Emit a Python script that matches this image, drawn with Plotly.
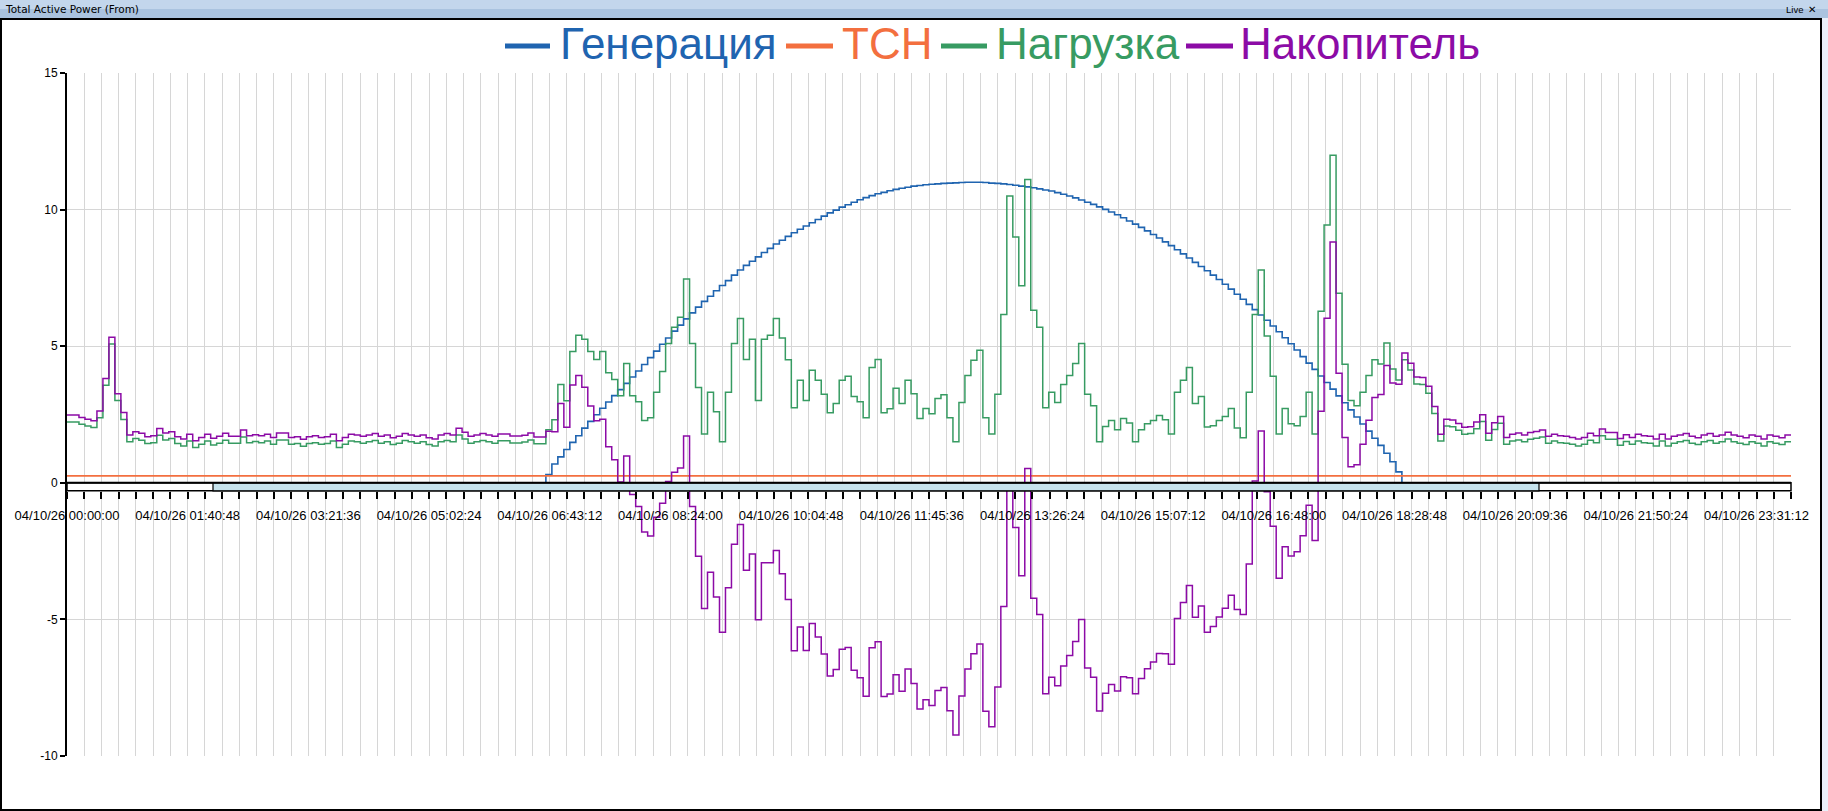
import plotly.graph_objects as go
import pandas as pd

# ---------------- data ----------------
start = "2026-04-10 00:00:00"
end = "2026-04-11 00:00:00"
times = pd.date_range(start, periods=289, freq="5min")

series_names = ["Генерация", "ТСН", "Нагрузка", "Накопитель"]

tick_labels = ["04/10/26 00:00:00", "04/10/26 01:40:48", "04/10/26 03:21:36", "04/10/26 05:02:24",
               "04/10/26 06:43:12", "04/10/26 08:24:00", "04/10/26 10:04:48", "04/10/26 11:45:36",
               "04/10/26 13:26:24", "04/10/26 15:07:12", "04/10/26 16:48:00", "04/10/26 18:28:48",
               "04/10/26 20:09:36", "04/10/26 21:50:24", "04/10/26 23:31:12"]
y_ticks = [-10, -5, 0, 5, 10, 15]
y_tick_labels = ["-10", "-5", "0", "5", "10", "15"]

generation = [0.0] * 80 + [
    0.30, 0.69, 0.95, 1.22, 1.48, 1.72, 2.00, 2.25, 2.49, 2.73, 2.96, 3.19,
    3.41, 3.64, 3.87, 4.09, 4.33, 4.58, 4.82, 5.07, 5.30, 5.55, 5.77, 6.00,
    6.22, 6.43, 6.64, 6.83, 7.03, 7.22, 7.40, 7.60, 7.79, 7.96, 8.11, 8.27,
    8.43, 8.58, 8.74, 8.88, 9.02, 9.15, 9.28, 9.40, 9.52, 9.64, 9.76, 9.88,
    9.98, 10.09, 10.18, 10.27, 10.36, 10.44, 10.51, 10.58, 10.63, 10.69, 10.74, 10.78,
    10.82, 10.86, 10.88, 10.91, 10.93, 10.94, 10.96, 10.97, 10.98, 10.99, 11.00, 11.00,
    11.00, 10.99, 10.97, 10.96, 10.94, 10.92, 10.89, 10.86, 10.83, 10.80, 10.76, 10.72,
    10.68, 10.62, 10.56, 10.50, 10.43, 10.35, 10.27, 10.19, 10.10, 10.01, 9.91, 9.81,
    9.70, 9.58, 9.47, 9.35, 9.22, 9.09, 8.96, 8.82, 8.68, 8.53, 8.38, 8.23,
    8.07, 7.92, 7.76, 7.60, 7.44, 7.27, 7.09, 6.90, 6.72, 6.53, 6.34, 6.14,
    5.95, 5.74, 5.53, 5.31, 5.09, 4.86, 4.62, 4.38, 4.15, 3.91, 3.67, 3.43,
    3.18, 2.93, 2.67, 2.41, 2.15, 1.89, 1.63, 1.37, 1.08, 0.77, 0.40,
] + [0.0] * 66

tsn = [0.25] * 289

load = [
    2.23, 2.23, 2.14, 2.08, 2.02, 2.38, 3.57, 5.08, 3.01, 2.32, 1.50, 1.62,
    1.56, 1.44, 1.47, 1.74, 1.57, 1.62, 1.44, 1.35, 1.53, 1.29, 1.41, 1.53,
    1.38, 1.45, 1.56, 1.45, 1.45, 1.68, 1.47, 1.51, 1.47, 1.53, 1.41, 1.57,
    1.57, 1.41, 1.44, 1.34, 1.44, 1.47, 1.41, 1.44, 1.53, 1.29, 1.41, 1.53,
    1.50, 1.45, 1.50, 1.55, 1.45, 1.50, 1.40, 1.45, 1.55, 1.50, 1.45, 1.50,
    1.40, 1.35, 1.50, 1.55, 1.50, 1.75, 1.60, 1.45, 1.50, 1.55, 1.50, 1.45,
    1.54, 1.54, 1.46, 1.46, 1.49, 1.57, 1.43, 1.43, 1.94, 2.31, 3.60, 3.00,
    4.81, 5.40, 5.25, 4.81, 4.51, 4.81, 4.03, 3.78, 3.19, 4.37, 3.19, 2.97,
    2.28, 2.38, 3.31, 4.07, 5.10, 5.69, 6.06, 7.46, 5.10, 3.49, 1.79, 3.31,
    2.60, 1.50, 3.31, 5.10, 6.01, 4.51, 5.25, 3.01, 5.25, 5.40, 6.01, 5.30,
    4.50, 2.75, 3.75, 3.01, 4.12, 3.75, 3.24, 2.56, 2.90, 3.75, 3.90, 3.16,
    2.97, 2.38, 4.22, 4.51, 2.56, 2.71, 3.46, 2.90, 3.75, 3.26, 2.35, 2.72,
    2.53, 3.09, 3.22, 2.38, 1.50, 2.94, 3.93, 4.49, 4.85, 2.38, 1.79, 3.24,
    6.16, 10.50, 9.00, 7.21, 11.10, 6.32, 5.69, 2.75, 3.31, 2.94, 3.60, 3.93,
    4.37, 5.10, 3.24, 2.82, 1.50, 2.06, 2.28, 1.94, 2.35, 2.19, 1.50, 1.94,
    2.16, 2.28, 2.46, 2.31, 1.79, 3.31, 3.75, 4.22, 2.90, 3.16, 2.04, 2.09,
    2.28, 2.43, 2.72, 2.01, 1.65, 3.31, 6.16, 7.79, 5.37, 3.90, 1.79, 2.72,
    2.16, 2.09, 2.43, 3.31, 1.79, 6.28, 9.44, 11.99, 6.94, 4.34, 3.01, 2.82,
    3.31, 3.93, 4.50, 4.35, 5.12, 4.17, 3.76, 4.50, 4.13, 3.62, 3.60, 3.28,
    2.54, 1.53, 2.08, 2.05, 1.92, 1.78, 1.80, 1.98, 2.24, 1.56, 1.95, 2.18,
    1.41, 1.53, 1.57, 1.50, 1.59, 1.63, 1.68, 1.45, 1.53, 1.47, 1.45, 1.41,
    1.35, 1.41, 1.56, 1.47, 1.72, 1.59, 1.59, 1.37, 1.51, 1.41, 1.53, 1.47,
    1.45, 1.35, 1.53, 1.35, 1.45, 1.50, 1.55, 1.45, 1.40, 1.50, 1.55, 1.45,
    1.50, 1.60, 1.50, 1.45, 1.40, 1.50, 1.45, 1.35, 1.50, 1.45, 1.40, 1.50, 1.50,
]

storage = [
    2.48, 2.48, 2.39, 2.33, 2.27, 2.63, 3.82, 5.33, 3.26, 2.57, 1.75, 1.87,
    1.81, 1.69, 1.72, 1.99, 1.82, 1.87, 1.69, 1.60, 1.78, 1.54, 1.66, 1.78,
    1.63, 1.70, 1.81, 1.70, 1.70, 1.93, 1.72, 1.76, 1.72, 1.78, 1.66, 1.82,
    1.82, 1.66, 1.69, 1.59, 1.69, 1.72, 1.66, 1.69, 1.78, 1.54, 1.66, 1.78,
    1.75, 1.70, 1.75, 1.80, 1.70, 1.75, 1.65, 1.70, 1.80, 1.75, 1.70, 1.75,
    1.65, 1.60, 1.75, 1.80, 1.75, 2.00, 1.85, 1.70, 1.75, 1.80, 1.75, 1.70,
    1.79, 1.79, 1.71, 1.71, 1.74, 1.82, 1.68, 1.68, 1.89, 1.87, 2.90, 2.03,
    3.58, 3.93, 3.50, 2.81, 2.27, 2.33, 1.32, 0.84, 0.03, 0.98, -0.43, -0.87,
    -1.80, -1.95, -1.26, -0.75, 0.05, 0.39, 0.54, 1.71, -0.87, -2.69, -4.60, -3.27,
    -4.18, -5.47, -3.84, -2.25, -1.53, -3.20, -2.61, -5.01, -2.93, -2.93, -2.48, -3.33,
    -4.27, -6.15, -5.28, -6.14, -5.15, -5.64, -6.27, -7.07, -6.83, -6.09, -6.03, -6.86,
    -7.14, -7.81, -6.04, -5.82, -7.82, -7.73, -7.03, -7.63, -6.82, -7.35, -8.28, -7.94,
    -8.15, -7.60, -7.49, -8.34, -9.23, -7.80, -6.82, -6.26, -5.90, -8.36, -8.93, -7.47,
    -4.53, -0.17, -1.64, -3.40, 0.52, -4.23, -4.82, -7.72, -7.12, -7.43, -6.71, -6.32,
    -5.81, -5.00, -6.78, -7.12, -8.35, -7.70, -7.38, -7.62, -7.10, -7.14, -7.72, -7.16,
    -6.81, -6.56, -6.25, -6.26, -6.64, -4.97, -4.38, -3.76, -4.92, -4.51, -5.47, -5.26,
    -4.91, -4.59, -4.12, -4.64, -4.82, -2.97, 0.07, 1.90, -0.33, -1.59, -3.49, -2.34,
    -2.68, -2.52, -1.94, -0.82, -2.11, 2.62, 6.02, 8.81, 4.01, 1.66, 0.59, 0.66,
    1.41, 2.29, 3.12, 3.23, 4.29, 3.65, 3.61, 4.75, 4.38, 3.87, 3.85, 3.53,
    2.79, 1.78, 2.33, 2.30, 2.17, 2.03, 2.05, 2.23, 2.49, 1.81, 2.20, 2.43,
    1.66, 1.78, 1.82, 1.75, 1.84, 1.88, 1.93, 1.70, 1.78, 1.72, 1.70, 1.66,
    1.60, 1.66, 1.81, 1.72, 1.97, 1.84, 1.84, 1.62, 1.76, 1.66, 1.78, 1.72,
    1.70, 1.60, 1.78, 1.60, 1.70, 1.75, 1.80, 1.70, 1.65, 1.75, 1.80, 1.70,
    1.75, 1.85, 1.75, 1.70, 1.65, 1.75, 1.70, 1.60, 1.75, 1.70, 1.65, 1.75, 1.75,
]

# ---------------- style / layout ----------------
colors = ["#1f64b0", "#f36f3f", "#379b62", "#8c0ba6"]
FONT = "Liberation Sans"
W, H = 1828, 811
L, R, T, B = 67, 37, 73, 55
PW, PH = W - L - R, H - T - B


def px(x):
    return (x - L) / PW


def py(y):
    return (H - B - y) / PH


grid_ticks = pd.date_range(start, periods=101, freq="864s")
grid_text = [tick_labels[k // 7] if k % 7 == 0 else "" for k in range(len(grid_ticks))]

fig = go.Figure()
for name, vals, col, w in zip(series_names, [generation, tsn, load, storage], colors,
                              [1.6, 1.8, 1.5, 1.5]):
    fig.add_trace(go.Scatter(x=times, y=vals, name=name, mode="lines",
                             line=dict(color=col, width=w, shape="hv"),
                             showlegend=False))

shapes = []
# window panel + title bar
shapes.append(dict(type="rect", xref="paper", yref="paper", x0=px(1), x1=px(1821),
                   y0=py(810), y1=py(19), fillcolor="white",
                   line=dict(color="black", width=2), layer="below"))
shapes.append(dict(type="rect", xref="paper", yref="paper", x0=px(0), x1=px(W),
                   y0=py(9), y1=py(0), fillcolor="#c3d6ec", line=dict(width=0), layer="below"))
shapes.append(dict(type="rect", xref="paper", yref="paper", x0=px(0), x1=px(W),
                   y0=py(18), y1=py(9), fillcolor="#aac3df", line=dict(width=0), layer="below"))

# axis band at y = 0
band_h = 8 / (PH / 25.0)
shapes.append(dict(type="rect", xref="paper", yref="y", x0=0, x1=1, y0=-band_h, y1=0,
                   fillcolor="white", line=dict(color="black", width=1.5), layer="above"))
shapes.append(dict(type="rect", xref="paper", yref="y", x0=px(213), x1=px(1539),
                   y0=-band_h, y1=0, fillcolor="#c6e3ed",
                   line=dict(color="black", width=1.2), layer="above"))
shapes.append(dict(type="line", xref="paper", yref="y", x0=0, x1=1, y0=0, y1=0,
                   line=dict(color="black", width=2), layer="above"))

# legend
legend_items = [(505, 550, 558), (786, 833, 840), (941, 987, 994), (1186, 1233, 1238)]
annotations = []
for (lx0, lx1, tx), name, col in zip(legend_items, series_names, colors):
    shapes.append(dict(type="line", xref="paper", yref="paper", x0=px(lx0), x1=px(lx1),
                       y0=py(46), y1=py(46), line=dict(color=col, width=5)))
    annotations.append(dict(xref="paper", yref="paper", x=px(tx), y=py(44), text=name,
                            showarrow=False, xanchor="left", yanchor="middle",
                            font=dict(family=FONT, size=44, color=col)))

annotations.append(dict(xref="paper", yref="paper", x=px(3), y=py(9.5),
                        text="Total Active Power (From)", showarrow=False,
                        xanchor="left", yanchor="middle",
                        font=dict(family="DejaVu Sans", size=10.5, color="black")))
annotations.append(dict(xref="paper", yref="paper", x=px(1784), y=py(9.5), text="Live",
                        showarrow=False, xanchor="left", yanchor="middle",
                        font=dict(family=FONT, size=9.5, color="black")))
annotations.append(dict(xref="paper", yref="paper", x=px(1812), y=py(9.5), text="<b>✕</b>",
                        showarrow=False, xanchor="center", yanchor="middle",
                        font=dict(family="DejaVu Sans", size=10, color="black")))

fig.update_layout(
    width=W, height=H, autosize=False,
    margin=dict(l=L, r=R, t=T, b=B, pad=0),
    paper_bgcolor="#e9eff9", plot_bgcolor="rgba(0,0,0,0)",
    showlegend=False,
    shapes=shapes, annotations=annotations,
    font=dict(family=FONT, color="black"),
    xaxis=dict(type="date", range=[start, end], tickmode="array",
               tickvals=[t.strftime("%Y-%m-%d %H:%M:%S") for t in grid_ticks],
               ticktext=grid_text, tickangle=0,
               showgrid=True, gridcolor="#d6d6d6", gridwidth=1,
               ticks="outside", ticklen=7, tickwidth=2, tickcolor="black",
               anchor="free", position=py(491), showline=False, zeroline=False,
               ticklabelstandoff=5,
               tickfont=dict(family=FONT, size=13, color="black")),
    yaxis=dict(range=[-10, 15], tickmode="array", tickvals=y_ticks, ticktext=y_tick_labels,
               showgrid=True, gridcolor="#d6d6d6", gridwidth=1, zeroline=False,
               showline=True, linecolor="black", linewidth=2,
               ticks="outside", ticklen=5, tickwidth=2, tickcolor="black",
               tickfont=dict(family=FONT, size=12, color="black")),
)

fig.write_html("out.html", config={"displayModeBar": False},
               post_script="document.body.style.margin='0';document.body.style.padding='0';")
